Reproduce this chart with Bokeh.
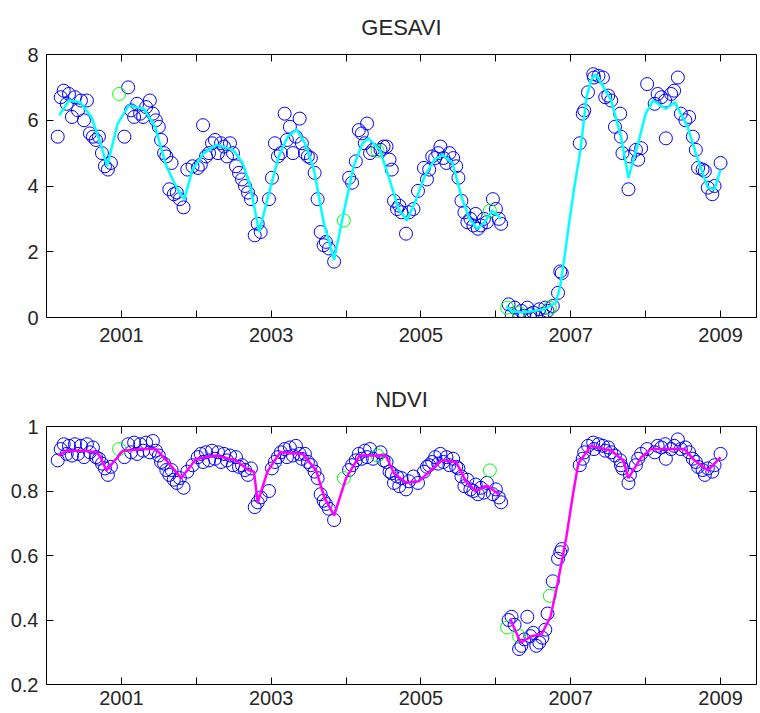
from bokeh.plotting import figure
from bokeh.layouts import column
from bokeh.models import FixedTicker, LinearAxis, Range1d, CustomLabelingPolicy
from bokeh.embed import file_html
from bokeh.resources import INLINE

# ---------------- data ----------------
# observation dates (decimal years), before and after the 2006 break
dates_a = [2000.15, 2000.19, 2000.23, 2000.27, 2000.30, 2000.34, 2000.38, 2000.42, 2000.46, 2000.50,
           2000.54, 2000.58, 2000.62, 2000.66, 2000.70, 2000.74, 2000.78, 2000.82, 2000.86,
           2001.04, 2001.09, 2001.13, 2001.17, 2001.21, 2001.25, 2001.29, 2001.33, 2001.38, 2001.42,
           2001.46, 2001.50, 2001.53, 2001.57, 2001.60, 2001.64, 2001.67, 2001.70, 2001.74, 2001.78,
           2001.83, 2001.88, 2001.95, 2002.02, 2002.06, 2002.09, 2002.13, 2002.17, 2002.21, 2002.25,
           2002.29, 2002.33, 2002.37, 2002.41, 2002.45, 2002.49, 2002.53, 2002.57, 2002.61, 2002.65,
           2002.69, 2002.73, 2002.78, 2002.82, 2002.86, 2002.97, 2003.01, 2003.05, 2003.09, 2003.13,
           2003.18, 2003.21, 2003.25, 2003.29, 2003.33, 2003.38, 2003.41, 2003.45, 2003.49, 2003.53,
           2003.58, 2003.62, 2003.66, 2003.70, 2003.73, 2003.77, 2003.84, 2004.04, 2004.08, 2004.13,
           2004.17, 2004.21, 2004.25, 2004.28, 2004.32, 2004.36, 2004.46, 2004.50, 2004.54, 2004.58,
           2004.61, 2004.64, 2004.68, 2004.71, 2004.74, 2004.80, 2004.84, 2004.90, 2004.96, 2005.04,
           2005.08, 2005.11, 2005.15, 2005.19, 2005.23, 2005.26, 2005.30, 2005.34, 2005.38, 2005.43,
           2005.47, 2005.50, 2005.54, 2005.58, 2005.62, 2005.66, 2005.70, 2005.73, 2005.76, 2005.80,
           2005.84, 2005.88, 2005.96, 2006.00, 2006.04, 2006.07]
gesavi_a = [5.5, 6.7, 6.9, 6.5, 6.8, 6.1, 6.7, 6.3, 6.6, 6.0,
            6.6, 5.6, 5.5, 5.4, 5.5, 5.0, 4.6, 4.5, 4.7,
            5.5, 7.0, 6.3, 6.1, 6.5, 6.2, 6.1, 6.4, 6.6, 6.2,
            6.0, 5.8, 5.4, 5.0, 4.9, 3.9, 4.7, 3.75, 3.8, 3.6,
            3.35, 4.5, 4.6, 4.55, 4.65, 5.85, 4.9, 5.0, 5.3, 5.4,
            5.0, 5.3, 5.2, 4.9, 5.3, 5.0, 4.6, 4.4, 4.2, 4.0,
            3.8, 3.6, 2.5, 2.85, 2.6, 3.6, 4.25, 5.3, 4.9, 5.0,
            6.2, 5.4, 5.8, 5.0, 5.5, 6.05, 5.3, 5.0, 4.9, 4.85,
            4.4, 3.6, 2.6, 2.2, 2.3, 2.1, 1.7, 4.25, 4.1, 4.75,
            5.7, 5.6, 5.3, 5.9, 5.0, 5.1, 5.1, 5.2, 5.2, 4.8,
            4.5, 3.55, 3.3, 3.4, 3.2, 2.55, 3.2, 3.3, 3.85, 4.55,
            4.2, 4.5, 4.9, 4.85, 5.0, 5.2, 4.85, 4.7, 5.0, 4.85,
            4.6, 4.25, 3.55, 3.2, 2.9, 3.0, 2.8, 3.15, 2.7, 2.8,
            3.0, 2.9, 3.6, 3.3, 3.0, 2.85]
ndvi_a = [0.895, 0.93, 0.945, 0.915, 0.94, 0.91, 0.945, 0.915, 0.94, 0.905,
          0.945, 0.92, 0.935, 0.905, 0.90, 0.885, 0.87, 0.85, 0.875,
          0.905, 0.945, 0.92, 0.95, 0.915, 0.945, 0.925, 0.95, 0.92, 0.955,
          0.925, 0.91, 0.89, 0.885, 0.865, 0.85, 0.865, 0.835, 0.825, 0.84,
          0.81, 0.86, 0.88, 0.905, 0.915, 0.89, 0.92, 0.895, 0.925, 0.9,
          0.92, 0.89, 0.915, 0.895, 0.91, 0.88, 0.905, 0.875, 0.88, 0.865,
          0.85, 0.87, 0.75, 0.765, 0.78, 0.80, 0.87, 0.89, 0.905, 0.92,
          0.93, 0.905, 0.935, 0.91, 0.94, 0.915, 0.90, 0.915, 0.89, 0.88,
          0.86, 0.84, 0.79, 0.77, 0.76, 0.745, 0.71, 0.865, 0.88, 0.895,
          0.915, 0.90, 0.925, 0.905, 0.93, 0.90, 0.92, 0.895, 0.89, 0.86,
          0.855, 0.825, 0.845, 0.815, 0.84, 0.805, 0.83, 0.845, 0.825, 0.86,
          0.875, 0.88, 0.89, 0.905, 0.885, 0.915, 0.89, 0.905, 0.88, 0.90,
          0.875, 0.87, 0.845, 0.815, 0.835, 0.805, 0.80, 0.82, 0.79, 0.81,
          0.795, 0.825, 0.79, 0.805, 0.78, 0.765]

dates_b = [2006.17, 2006.21, 2006.25, 2006.31, 2006.34, 2006.38, 2006.42, 2006.46, 2006.50, 2006.54,
           2006.58, 2006.62, 2006.66, 2006.69, 2006.76, 2006.83, 2006.86, 2006.88,
           2007.12, 2007.16, 2007.18, 2007.23, 2007.30, 2007.31, 2007.37, 2007.43, 2007.46, 2007.50,
           2007.54, 2007.59, 2007.66, 2007.67, 2007.69, 2007.77, 2007.79, 2007.87, 2007.90, 2007.94,
           2008.02, 2008.12, 2008.16, 2008.21, 2008.26, 2008.27, 2008.34, 2008.38, 2008.43, 2008.47,
           2008.53, 2008.58, 2008.63, 2008.67, 2008.70, 2008.76, 2008.79, 2008.83, 2008.89, 2008.92,
           2009.00]
gesavi_b = [0.4, 0.1, 0.3, 0.0, 0.2, 0.05, 0.3, 0.1, 0.15, 0.0,
            0.25, 0.1, 0.3, 0.2, 0.35, 0.75, 1.4, 1.35,
            5.3, 6.2, 6.3, 6.85, 7.4, 7.3, 7.35, 7.3, 6.7, 6.75,
            6.6, 5.8, 6.2, 5.5, 5.0, 3.9, 4.9, 5.1, 4.8, 5.15,
            7.1, 6.5, 6.8, 6.7, 6.6, 5.45, 6.8, 6.9, 7.3, 6.2,
            6.0, 6.1, 5.5, 5.1, 4.55, 4.5, 4.45, 3.95, 3.75, 4.0,
            4.7]
ndvi_b = [0.40, 0.41, 0.385, 0.31, 0.32, 0.34, 0.41, 0.35, 0.36, 0.32,
          0.33, 0.345, 0.37, 0.42, 0.52, 0.59, 0.61, 0.62,
          0.88, 0.90, 0.92, 0.94, 0.95, 0.93, 0.945, 0.94, 0.925, 0.935,
          0.92, 0.91, 0.895, 0.88, 0.87, 0.825, 0.85, 0.88, 0.90, 0.915,
          0.93, 0.92, 0.94, 0.935, 0.945, 0.90, 0.93, 0.94, 0.96, 0.93,
          0.935, 0.92, 0.90, 0.89, 0.875, 0.865, 0.85, 0.87, 0.86, 0.88,
          0.915]

# flagged observations (green)
flag_dates = [2000.97, 2003.97, 2004.42, 2005.92, 2006.15, 2006.31, 2006.72]
flag_gesavi = [6.8, 2.95, 5.07, 3.25, 0.3, 0.15, 0.3]
flag_ndvi = [0.93, 0.84, 0.91, 0.864, 0.377, 0.35, 0.475]

# smoothed GESAVI fit (cyan)
fit_g_t1 = [2000.17, 2000.30, 2000.45, 2000.60, 2000.72, 2000.81, 2000.95, 2001.10, 2001.30, 2001.45,
            2001.60, 2001.75, 2001.84, 2001.95, 2002.10, 2002.27, 2002.49, 2002.62, 2002.72, 2002.84,
            2002.95, 2003.10, 2003.22, 2003.34, 2003.45, 2003.57, 2003.70, 2003.84, 2003.95, 2004.10,
            2004.22, 2004.30, 2004.45, 2004.58, 2004.70, 2004.81, 2004.92, 2005.05, 2005.18, 2005.29,
            2005.42, 2005.55, 2005.65, 2005.75, 2005.85, 2005.95, 2006.07]
fit_g_v1 = [6.15, 6.6, 6.55, 6.1, 5.3, 4.6, 5.9, 6.45, 6.35, 5.8,
            4.6, 3.9, 3.6, 4.5, 5.0, 5.25, 5.1, 4.7, 4.0, 2.6,
            3.6, 4.9, 5.5, 5.72, 5.3, 4.5, 2.9, 1.75, 3.0, 4.6,
            5.3, 5.45, 5.1, 4.2, 3.3, 2.95, 3.5, 4.3, 4.8, 4.95,
            4.7, 3.6, 3.0, 2.7, 2.9, 3.25, 3.0]
fit_g_t2 = [2006.14, 2006.20, 2006.35, 2006.50, 2006.65, 2006.80, 2006.86, 2006.92, 2006.97, 2007.05,
            2007.13, 2007.21, 2007.27, 2007.33, 2007.44, 2007.54, 2007.67, 2007.77, 2007.90, 2008.00,
            2008.10, 2008.27, 2008.39, 2008.56, 2008.69, 2008.83, 2008.92, 2009.00]
fit_g_v2 = [0.35, 0.2, 0.15, 0.2, 0.25, 0.45, 0.95, 1.9, 2.75, 4.0,
            5.1, 6.7, 7.2, 7.4, 7.0, 6.6, 5.5, 4.25, 5.3, 6.2,
            6.6, 6.35, 6.55, 5.8, 4.85, 3.95, 3.9, 4.5]

# smoothed NDVI fit (magenta)
fit_n_t1 = [2000.16, 2000.27, 2000.50, 2000.67, 2000.72, 2000.80, 2001.02, 2001.30, 2001.46, 2001.62,
            2001.80, 2002.00, 2002.26, 2002.53, 2002.70, 2002.77, 2002.82, 2002.95, 2003.12, 2003.42,
            2003.60, 2003.71, 2003.84, 2004.00, 2004.18, 2004.53, 2004.64, 2004.80, 2004.97, 2005.28,
            2005.47, 2005.60, 2005.73, 2005.88, 2006.04]
fit_n_v1 = [0.91, 0.925, 0.925, 0.92, 0.905, 0.864, 0.925, 0.93, 0.93, 0.89,
            0.84, 0.90, 0.91, 0.895, 0.864, 0.86, 0.765, 0.86, 0.92, 0.915,
            0.864, 0.78, 0.724, 0.84, 0.91, 0.91, 0.854, 0.826, 0.83, 0.895,
            0.89, 0.83, 0.80, 0.817, 0.79]
fit_n_t2 = [2006.19, 2006.33, 2006.48, 2006.61, 2006.73, 2006.83, 2006.94, 2007.03, 2007.10, 2007.27,
            2007.54, 2007.70, 2007.77, 2007.94, 2008.07, 2008.52, 2008.65, 2008.83, 2009.00]
fit_n_v2 = [0.405, 0.33, 0.35, 0.356, 0.41, 0.52, 0.656, 0.79, 0.885, 0.94,
            0.925, 0.895, 0.84, 0.904, 0.93, 0.93, 0.895, 0.864, 0.904]

year_ticks = [2001, 2002, 2003, 2004, 2005, 2006, 2007, 2008, 2009]
year_labels = {2001: "2001", 2002: "", 2003: "2003", 2004: "", 2005: "2005",
               2006: "", 2007: "2007", 2008: "", 2009: "2009"}
gesavi_ticks = [0, 2, 4, 6, 8]
ndvi_ticks = [0.2, 0.4, 0.6, 0.8, 1.0]
ndvi_labels = {0.2: "0.2", 0.4: "0.4", 0.6: "0.6", 0.8: "0.8", 1.0: "1"}

# ---------------- styling ----------------
FONT = "Liberation Sans"
TXT = "#262626"
TICK_SIZE = "20px"
HIDE_LABELS = "for (const i of indices) { if (i < 0) { yield i } }"


def style_axis(ax, ticks, overrides=None, show=True, standoff=6):
    ax.ticker = FixedTicker(ticks=ticks)
    if overrides:
        ax.major_label_overrides = overrides
    ax.axis_line_color = "black"
    ax.axis_line_width = 1
    ax.major_tick_line_color = "black"
    ax.major_tick_in = 7
    ax.major_tick_out = 0
    ax.minor_tick_line_color = None
    ax.major_label_text_font = FONT
    ax.major_label_text_color = TXT
    if show:
        ax.major_label_text_font_size = TICK_SIZE
        ax.major_label_standoff = standoff
    else:
        ax.major_label_text_font_size = "1px"
        ax.major_label_standoff = 0
        ax.major_label_policy = CustomLabelingPolicy(code=HIDE_LABELS)


def make_panel(title, yr, yticks, ylabels, height, btop, bbot, xstand):
    p = figure(width=760, height=height, output_backend="svg", toolbar_location=None,
               x_range=Range1d(2000, 2009.48), y_range=Range1d(*yr),
               min_border_left=46, min_border_right=1,
               min_border_top=btop, min_border_bottom=bbot)
    p.title.text = title
    p.title.align = "center"
    p.title.text_font = FONT
    p.title.text_font_size = "22px"
    p.title.text_font_style = "normal"
    p.title.text_color = TXT
    p.title.standoff = 22
    p.xgrid.visible = False
    p.ygrid.visible = False
    p.outline_line_color = None
    p.background_fill_color = "white"
    p.border_fill_color = "white"
    style_axis(p.xaxis[0], year_ticks, year_labels, True, xstand)
    style_axis(p.yaxis[0], yticks, ylabels, True, 8)
    top = LinearAxis()
    style_axis(top, year_ticks, None, False)
    p.add_layout(top, "above")
    right = LinearAxis()
    style_axis(right, yticks, None, False)
    p.add_layout(right, "right")
    return p


p1 = make_panel("GESAVI", (0, 8), gesavi_ticks, None, 365, 54, 48, 10)
p1.scatter(dates_a, gesavi_a, marker="circle", size=13, fill_color=None,
           line_color="#0000ff", line_width=1)
p1.scatter(dates_b, gesavi_b, marker="circle", size=13, fill_color=None,
           line_color="#0000ff", line_width=1)
p1.scatter(flag_dates, flag_gesavi, marker="circle", size=13, fill_color=None,
           line_color="#00ff00", line_width=1)
p1.line(fit_g_t1, fit_g_v1, line_color="#00ffff", line_width=2.5)
p1.line(fit_g_t2, fit_g_v2, line_color="#00ffff", line_width=2.5)

p2 = make_panel("NDVI", (0.2, 1.0), ndvi_ticks, ndvi_labels, 348, 61, 29, 6)
p2.scatter(dates_a, ndvi_a, marker="circle", size=13, fill_color=None,
           line_color="#0000ff", line_width=1)
p2.scatter(dates_b, ndvi_b, marker="circle", size=13, fill_color=None,
           line_color="#0000ff", line_width=1)
p2.scatter(flag_dates, flag_ndvi, marker="circle", size=13, fill_color=None,
           line_color="#00ff00", line_width=1)
p2.line(fit_n_t1, fit_n_v1, line_color="#ff00ff", line_width=2.5)
p2.line(fit_n_t2, fit_n_v2, line_color="#ff00ff", line_width=2.5)

layout = column(p1, p2, spacing=0)
open("out.html", "w").write(file_html(layout, INLINE))
